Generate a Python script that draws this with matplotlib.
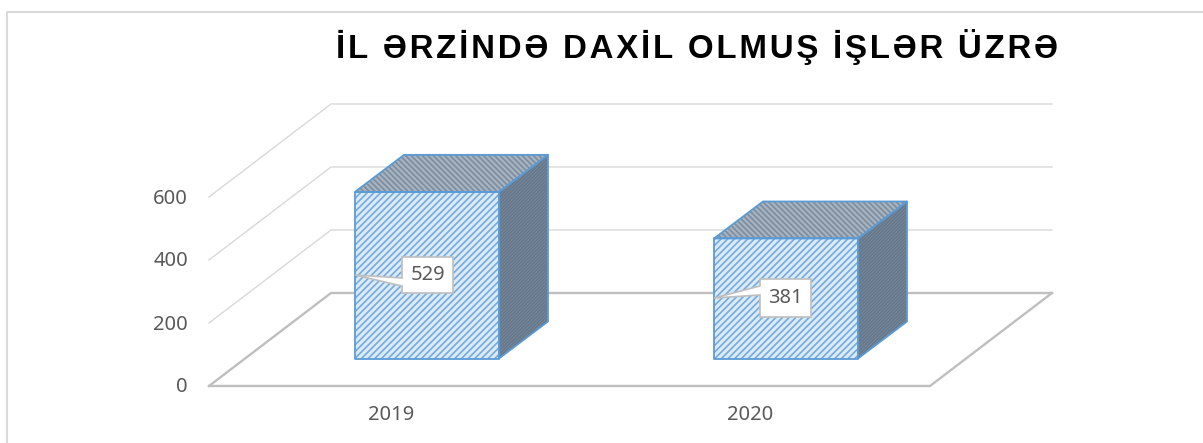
import matplotlib
matplotlib.use('Agg')
import matplotlib.pyplot as plt
from matplotlib.patches import Polygon

plt.rcParams['font.family'] = ['Noto Sans', 'DejaVu Sans']
plt.rcParams['hatch.linewidth'] = 1.2

title = 'İL ƏRZİNDƏ DAXİL OLMUŞ İŞLƏR ÜZRƏ'
years = ['2019', '2020']
values = [529, 381]
ticks = [0, 200, 400, 600]

# chart geometry, in figure pixels
x0, x1 = 209, 930
y_zero = 386
px_per_unit = 0.315
depth_x, depth_y = 122, -93
bar_left = [355, 714]
bar_w = 144
bar_base = 358.5
bar_dx, bar_dy = 49, -37
label_box = [(402, 257, 453, 293), (760, 279, 811, 317)]
label_tip = [((355, 275), (402, 278), (402, 286)), ((714, 298), (760, 286), (760, 295))]

grey = '#BFBFBF'
grid = '#D9D9D9'
blue = '#5B9BD5'
text_c = '#595959'


def yval(v):
    return y_zero - v * px_per_unit


def hatched(ax, pts, face, hatch_c, hatch):
    ax.add_patch(Polygon(pts, closed=True, facecolor=face, edgecolor=hatch_c, hatch=hatch, lw=0, zorder=3))
    ax.add_patch(Polygon(pts, closed=True, fill=False, edgecolor=blue, lw=1.3, joinstyle='round', zorder=4))


fig = plt.figure(figsize=(12.03, 4.43), dpi=100)
ax = fig.add_axes([0, 0, 1, 1])
ax.set_xlim(0, 1203)
ax.set_ylim(443, 0)
ax.axis('off')

# outer frame
ax.plot([7, 7, 1203], [443, 11.5, 11.5], color=grid, lw=1.5, zorder=1)

# walls and gridlines
for t in ticks:
    y = yval(t)
    c, lw = (grey, 1.7) if t == 0 else (grid, 1.0)
    ax.plot([x0, x0 + depth_x, x1 + depth_x], [y, y + depth_y, y + depth_y], color=c, lw=lw, zorder=2)
    ax.text(188, y + 1.5, str(t), ha='right', va='center', color=text_c, fontsize=14.5)
ax.plot([x0, x1, x1 + depth_x], [y_zero, y_zero, y_zero + depth_y], color=grey, lw=1.7, zorder=2)

# bars
for i, v in enumerate(values):
    l = bar_left[i]
    r = l + bar_w
    top = bar_base - v * px_per_unit
    hatched(ax, [(l, bar_base), (r, bar_base), (r, top), (l, top)], '#DCEAF8', '#74ABDF', '/////')
    hatched(ax, [(l, top), (r, top), (r + bar_dx, top + bar_dy), (l + bar_dx, top + bar_dy)], '#A9B3BD', '#7A8DA3', '\\\\\\\\\\\\')
    hatched(ax, [(r, top), (r + bar_dx, top + bar_dy), (r + bar_dx, bar_base + bar_dy), (r, bar_base)], '#7F8A94', '#64798F', '//////////')

    # callout
    bl, bt, br, bb = label_box[i]
    tip, p1, p2 = label_tip[i]
    ax.add_patch(Polygon([tip, p1, (bl, bt), (br, bt), (br, bb), (bl, bb), p2], closed=True,
                         facecolor='white', edgecolor=grey, lw=1.2, zorder=5))
    ax.text((bl + br) / 2, (bt + bb) / 2, str(v), ha='center', va='center', color=text_c, fontsize=14.5, zorder=6)

    ax.text(l + 36, 415, years[i], ha='center', va='center', color=text_c, fontsize=14.5)

ax.text(697.5, 58, '\u200a'.join(title), ha='center', va='baseline', fontsize=23.75, fontweight='bold',
        color='black', family=['Liberation Sans', 'DejaVu Sans'])

fig.savefig('out.png', dpi=100)
